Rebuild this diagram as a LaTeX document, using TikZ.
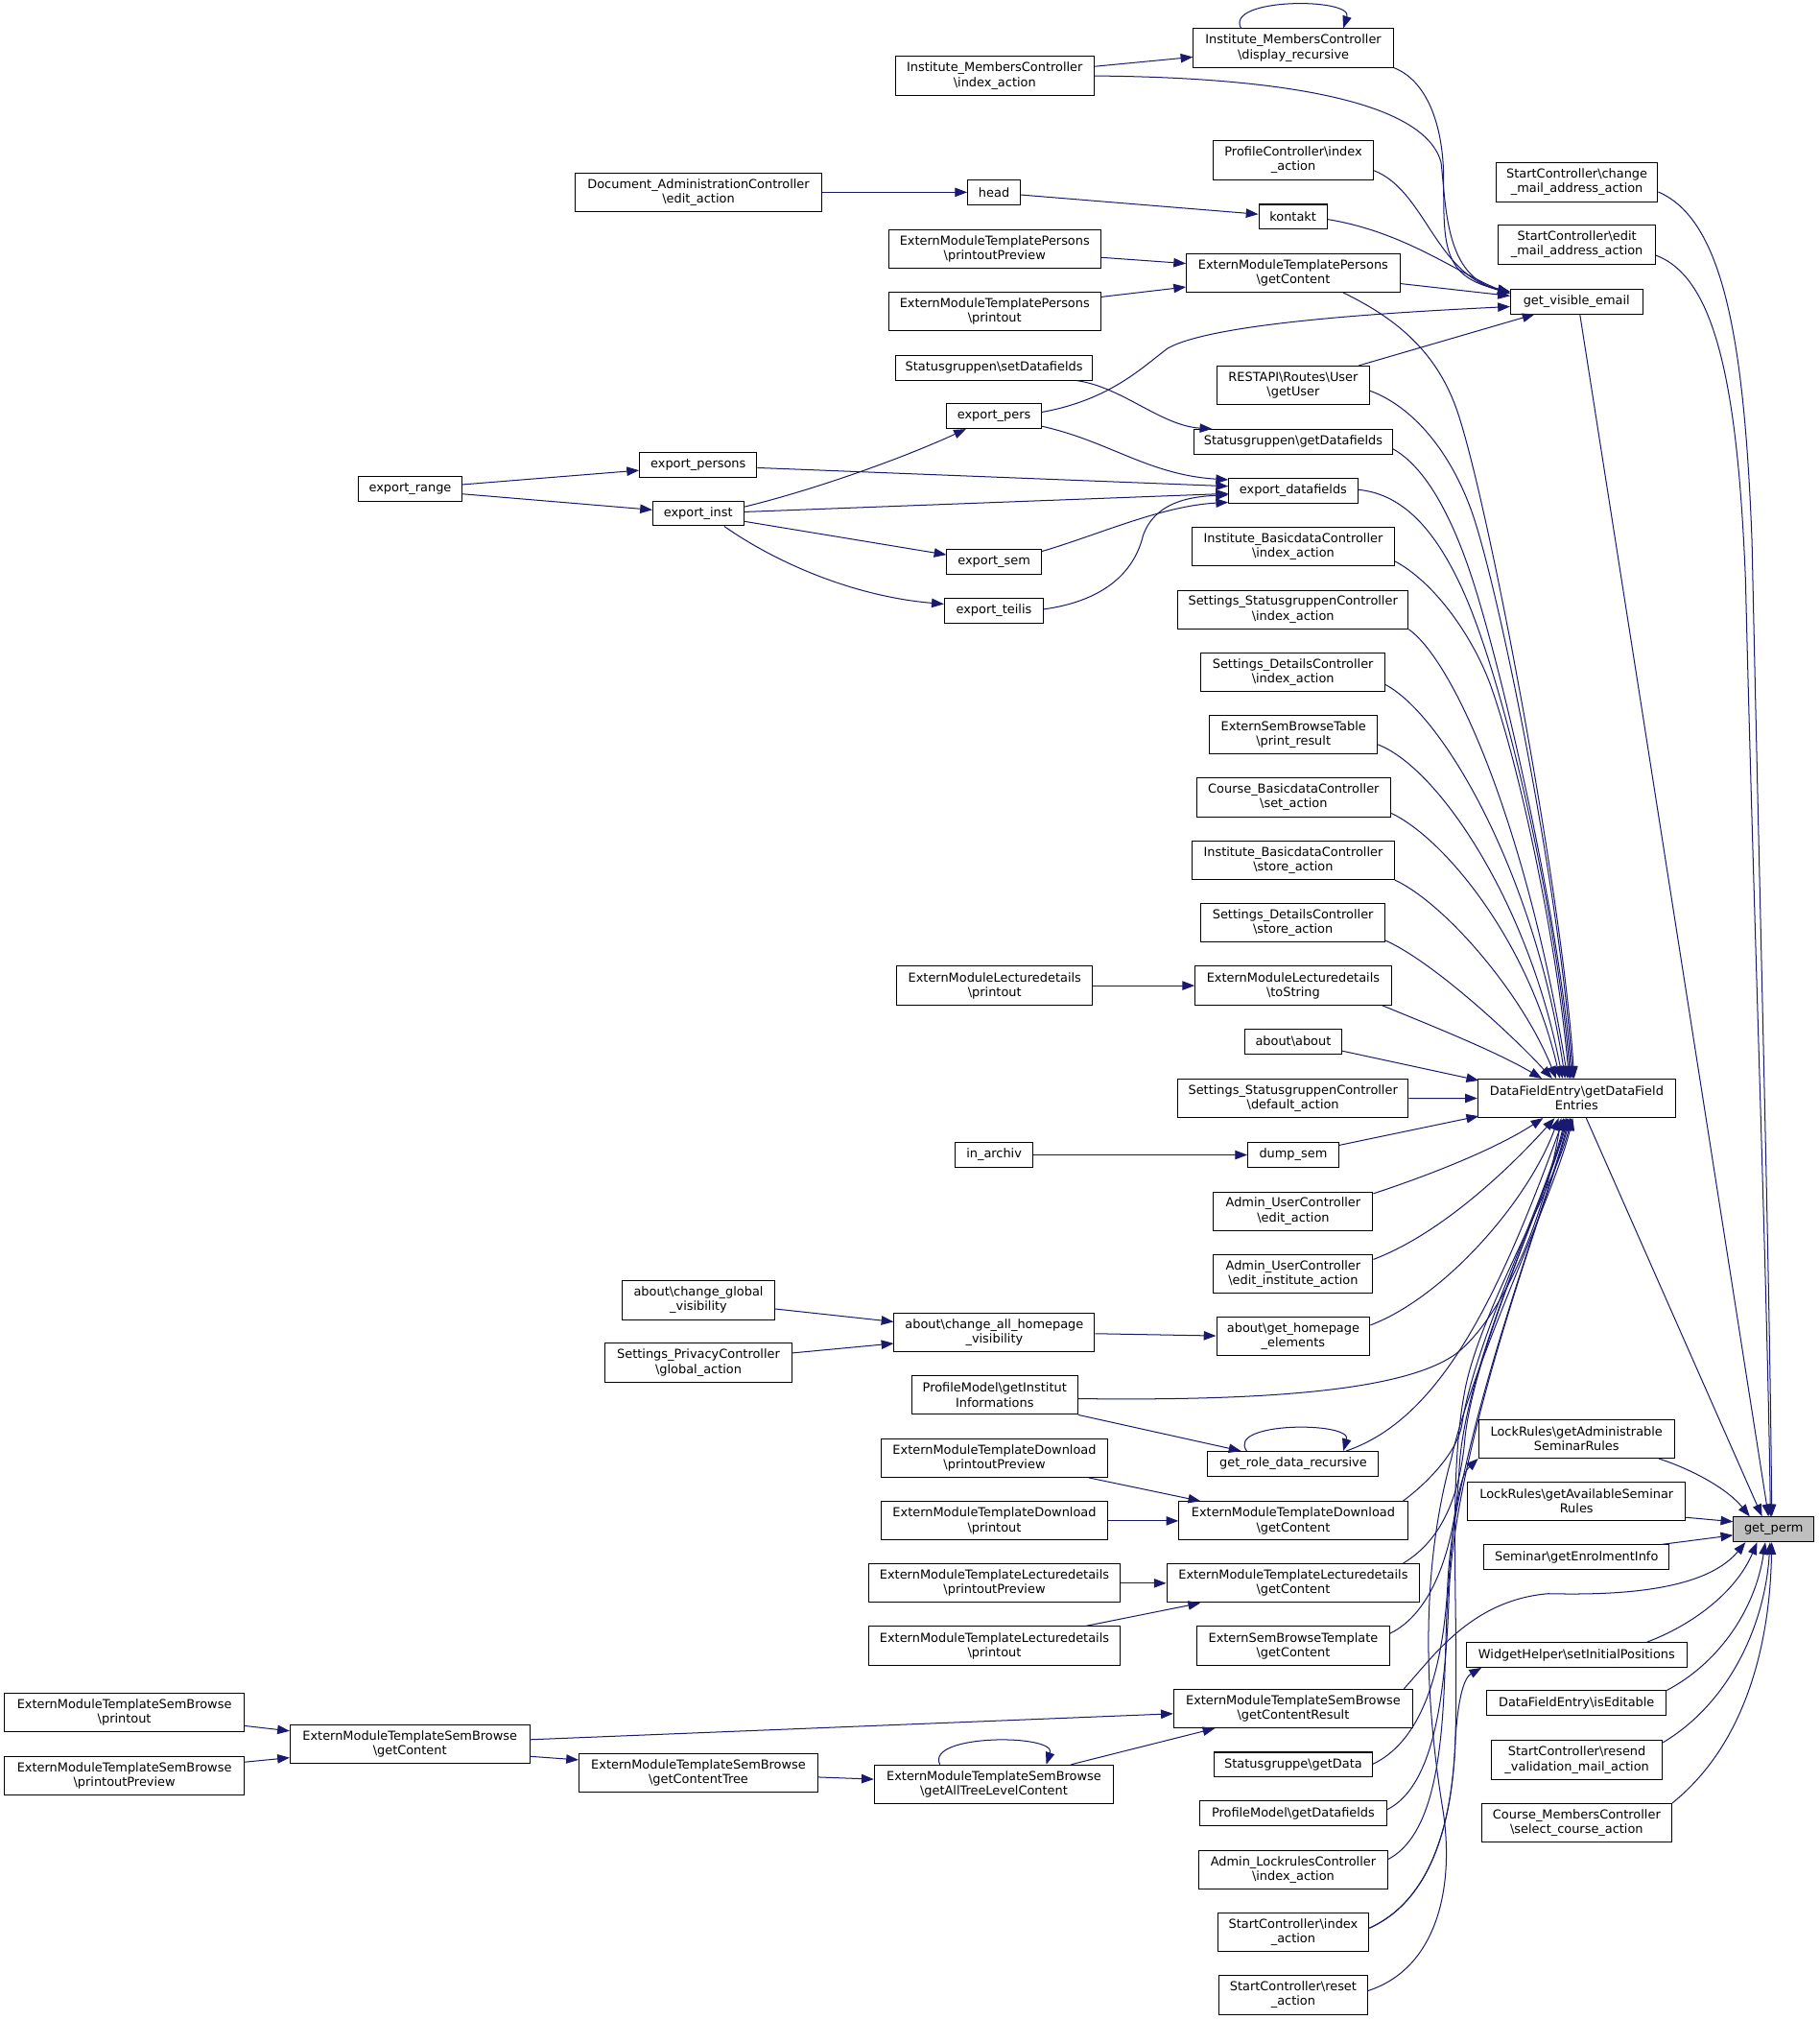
\documentclass[tikz,border=0pt]{standalone}
\usepackage{fontspec}
\newfontfamily\djfont{DejaVu Sans}
\usetikzlibrary{arrows.meta,calc}
\definecolor{edgec}{HTML}{191970}
\definecolor{gpfill}{HTML}{BFBFBF}
\newcommand{\BSL}{\textbackslash{}}
\begin{document}
\begin{tikzpicture}[x=1pt,y=-1pt,
  nd/.style={draw=black, fill=white, line width=0.75pt, inner xsep=1pt, inner ysep=1pt,
    align=center, font={\djfont\fontsize{9.6}{11.3}\selectfont}, minimum height=19.2pt},
  two/.style={minimum height=29.9pt},
  e/.style={draw=edgec, line width=0.75pt, -{Triangle[length=9.5pt,width=7pt]}}]
\fill[white] (0,0) rectangle (1410,1565.4);
\useasboundingbox (0,0) rectangle (1410,1565.4);

% ---------- right column
\node[nd,two,minimum width=125.2pt] (cma) at (1222.3,141.3) {StartController\BSL change\\\_mail\_address\_action};
\node[nd,two,minimum width=121.6pt] (ema) at (1222.3,189.6) {StartController\BSL edit\\\_mail\_address\_action};
\node[nd,minimum width=102.3pt] (gve) at (1222,233.6) {get\_visible\_email};
\node[nd,two,minimum width=153.2pt] (dfe) at (1222.1,851.1) {DataFieldEntry\BSL getDataField\\Entries};
\node[nd,two,minimum width=151.7pt] (lra) at (1222,1115) {LockRules\BSL getAdministrable\\SeminarRules};
\node[nd,two,minimum width=168.7pt] (lrv) at (1222,1163.5) {LockRules\BSL getAvailableSeminar\\Rules};
\node[nd,minimum width=143.6pt] (sge) at (1222,1206.8) {Seminar\BSL getEnrolmentInfo};
\node[nd,minimum width=171.4pt] (whs) at (1222.1,1282.4) {WidgetHelper\BSL setInitialPositions};
\node[nd,minimum width=139.1pt] (die) at (1222,1319.9) {DataFieldEntry\BSL isEditable};
\node[nd,two,minimum width=132.4pt] (rva) at (1222.3,1363.9) {StartController\BSL resend\\\_validation\_mail\_action};
\node[nd,two,minimum width=147.2pt] (mcs) at (1222.1,1412.7) {Course\_MembersController\\\BSL select\_course\_action};
\node[nd,fill=gpfill,minimum width=62.3pt] (gp) at (1374.8,1185.2) {get\_perm};

% ---------- column 3
\node[nd,two,minimum width=155pt] (dr) at (1002.5,37.2) {Institute\_MembersController\\\BSL display\_recursive};
\node[nd,two,minimum width=124.3pt] (pci) at (1002.5,124.2) {ProfileController\BSL index\\\_action};
\node[nd,minimum width=53pt] (kon) at (1002.2,168) {kontakt};
\node[nd,two,minimum width=165.6pt] (epg) at (1002.4,211.5) {ExternModuleTemplatePersons\\\BSL getContent};
\node[nd,two,minimum width=118pt] (rgu) at (1002.4,298.6) {RESTAPI\BSL Routes\BSL User\\\BSL getUser};
\node[nd,minimum width=153.9pt] (sgd) at (1002.4,342.3) {Statusgruppen\BSL getDatafields};
\node[nd,minimum width=100.1pt] (edf) at (1002.4,380.3) {export\_datafields};
\node[nd,two,minimum width=156.6pt] (ibi) at (1002.4,423.8) {Institute\_BasicdataController\\\BSL index\_action};
\node[nd,two,minimum width=178.6pt] (ssi) at (1002.2,472.3) {Settings\_StatusgruppenController\\\BSL index\_action};
\node[nd,two,minimum width=142.6pt] (sdi) at (1002.2,521) {Settings\_DetailsController\\\BSL index\_action};
\node[nd,two,minimum width=130.1pt] (spr) at (1002.6,569.4) {ExternSemBrowseTable\\\BSL print\_result};
\node[nd,two,minimum width=150.7pt] (cbs) at (1002.7,617.9) {Course\_BasicdataController\\\BSL set\_action};
\node[nd,two,minimum width=156.6pt] (ibs) at (1002.4,666.6) {Institute\_BasicdataController\\\BSL store\_action};
\node[nd,two,minimum width=142.6pt] (sds) at (1002.2,715.1) {Settings\_DetailsController\\\BSL store\_action};
\node[nd,two,minimum width=152.1pt] (lts) at (1002.4,763.8) {ExternModuleLecturedetails\\\BSL toString};
\node[nd,minimum width=74.9pt] (aa) at (1002.4,807.2) {about\BSL about};
\node[nd,two,minimum width=178.6pt] (ssd) at (1002.2,851.2) {Settings\_StatusgruppenController\\\BSL default\_action};
\node[nd,minimum width=70.4pt] (ds) at (1002.4,895) {dump\_sem};
\node[nd,two,minimum width=123.4pt] (aue) at (1002.4,938.6) {Admin\_UserController\\\BSL edit\_action};
\node[nd,two,minimum width=123.4pt] (aui) at (1002.4,987) {Admin\_UserController\\\BSL edit\_institute\_action};
\node[nd,two,minimum width=118.9pt] (ghe) at (1002.4,1035.7) {about\BSL get\_homepage\\\_elements};
\node[nd,minimum width=132.4pt] (grd) at (1002.4,1134.4) {get\_role\_data\_recursive};
\node[nd,two,minimum width=177.2pt] (tdg) at (1002.4,1178.6) {ExternModuleTemplateDownload\\\BSL getContent};
\node[nd,two,minimum width=196.1pt] (tlg) at (1002.4,1226.9) {ExternModuleTemplateLecturedetails\\\BSL getContent};
\node[nd,two,minimum width=149.4pt] (sbt) at (1002.4,1275.4) {ExternSemBrowseTemplate\\\BSL getContent};
\node[nd,two,minimum width=185.3pt] (gcr) at (1002.4,1324) {ExternModuleTemplateSemBrowse\\\BSL getContentResult};
\node[nd,minimum width=122.5pt] (sgg) at (1002.4,1367.5) {Statusgruppe\BSL getData};
\node[nd,minimum width=144.9pt] (pmd) at (1002.4,1405.3) {ProfileModel\BSL getDatafields};
\node[nd,two,minimum width=146.8pt] (ali) at (1002.4,1449) {Admin\_LockrulesController\\\BSL index\_action};
\node[nd,two,minimum width=117.1pt] (sci) at (1002.4,1497.6) {StartController\BSL index\\\_action};
\node[nd,two,minimum width=115.3pt] (scr) at (1002.4,1546) {StartController\BSL reset\\\_action};

% ---------- column 4
\node[nd,two,minimum width=154pt] (imi) at (771,58.8) {Institute\_MembersController\\\BSL index\_action};
\node[nd,minimum width=40.9pt] (hd) at (770.5,149) {head};
\node[nd,two,minimum width=164.4pt] (tpp) at (771,192.7) {ExternModuleTemplatePersons\\\BSL printoutPreview};
\node[nd,two,minimum width=164.4pt] (tpo) at (771,241.4) {ExternModuleTemplatePersons\\\BSL printout};
\node[nd,minimum width=153pt] (ssf) at (770.5,285) {Statusgruppen\BSL setDatafields};
\node[nd,minimum width=73.1pt] (ep) at (770.5,322.5) {export\_pers};
\node[nd,minimum width=73.1pt] (es) at (770.5,435.6) {export\_sem};
\node[nd,minimum width=76.8pt] (et) at (770.4,473.2) {export\_teilis};
\node[nd,two,minimum width=152pt] (lpo) at (771,763.8) {ExternModuleLecturedetails\\\BSL printout};
\node[nd,minimum width=60.5pt] (ia) at (770.5,895) {in\_archiv};
\node[nd,two,minimum width=155.3pt] (cah) at (770.7,1032.4) {about\BSL change\_all\_homepage\\\_visibility};
\node[nd,two,minimum width=128.6pt] (pgi) at (771,1081.1) {ProfileModel\BSL getInstitut\\Informations};
\node[nd,two,minimum width=175.6pt] (tdp) at (770.8,1129.8) {ExternModuleTemplateDownload\\\BSL printoutPreview};
\node[nd,two,minimum width=175.6pt] (tdo) at (770.8,1178.6) {ExternModuleTemplateDownload\\\BSL printout};
\node[nd,two,minimum width=195.4pt] (tlp) at (770.8,1226.9) {ExternModuleTemplateLecturedetails\\\BSL printoutPreview};
\node[nd,two,minimum width=195.4pt] (tlo) at (770.8,1275.4) {ExternModuleTemplateLecturedetails\\\BSL printout};
\node[nd,two,minimum width=185.4pt] (atl) at (770.4,1382.7) {ExternModuleTemplateSemBrowse\\\BSL getAllTreeLevelContent};

% ---------- column 5
\node[nd,two,minimum width=190.6pt] (dae) at (541.4,149) {Document\_AdministrationController\\\BSL edit\_action};
\node[nd,minimum width=91pt] (eps) at (541.2,360) {export\_persons};
\node[nd,minimum width=70.3pt] (ei) at (541.2,397.9) {export\_inst};
\node[nd,two,minimum width=117.6pt] (cgv) at (541.4,1007.6) {about\BSL change\_global\\\_visibility};
\node[nd,two,minimum width=144.6pt] (spg) at (541.4,1056) {Settings\_PrivacyController\\\BSL global\_action};
\node[nd,two,minimum width=185.2pt] (sbc) at (541.4,1373.7) {ExternModuleTemplateSemBrowse\\\BSL getContentTree};

% ---------- column 6 / 7
\node[nd,minimum width=80.6pt] (er) at (317.9,379) {export\_range};
\node[nd,two,minimum width=185.6pt] (sbg) at (317.7,1351.8) {ExternModuleTemplateSemBrowse\\\BSL getContent};
\node[nd,two,minimum width=185.7pt] (sbo) at (96.4,1327.2) {ExternModuleTemplateSemBrowse\\\BSL printout};
\node[nd,two,minimum width=185.7pt] (sbp) at (96.4,1375.9) {ExternModuleTemplateSemBrowse\\\BSL printoutPreview};

% ================= edges
% into get_visible_email
\draw[e] ($(imi.east)+(0,-7.3)$) -- ($(dr.west)+(0,7)$);
\draw[e] (imi.east) .. controls (1000,60) and (1105,80) .. (1117,126) .. controls (1121,160) and (1120,215) .. ($(gve.north west)+(0,2.5)$);
\draw[e] (dr.south east) .. controls (1105,62) and (1119,95) .. (1119,140) .. controls (1119,190) and (1118,215) .. ($(gve.north west)+(0,2.5)$);
\draw[e] ($(dr.north west)+(37.3,0)$) .. controls (949,-2) and (1049,-2) .. ($(dr.north east)+(-39.2,0)$);
\draw[e] ($(pci.east)+(0,8)$) .. controls (1105,148) and (1112,212) .. ($(gve.north west)+(0,3.5)$);
\draw[e] ($(kon.east)+(0,2)$) .. controls (1090,180) and (1130,212) .. ($(gve.north west)+(0,4)$);
\draw[e] ($(epg.east)+(0,8.3)$) -- ($(gve.west)+(0,-4.3)$);
\draw[e] ($(ep.east)+(0,-3.1)$) .. controls (860,310) and (885,285) .. (905,270) .. controls (940,250) and (1080,242) .. ($(gve.west)+(0,4)$);
\draw[e] ($(rgu.north east)+(-8.5,0)$) -- ($(gve.south west)+(19,0)$);

% small chains on the left
\draw[e] (dae.east) -- (hd.west);
\draw[e] ($(hd.east)+(0,2)$) -- ($(kon.west)+(0,-2)$);
\draw[e] ($(tpp.east)+(0,6.8)$) -- ($(epg.west)+(0,-7.3)$);
\draw[e] ($(tpo.east)+(0,-11.3)$) -- ($(epg.west)+(0,10.9)$);
\draw[e] ($(ssf.south east)+(-12.6,0)$) .. controls (870,300) and (900,330) .. ($(sgd.north west)+(14.4,0)$);
\draw[e] ($(er.east)+(0,-3.5)$) -- ($(eps.west)+(0,4.5)$);
\draw[e] ($(er.east)+(0,3.8)$) -- ($(ei.west)+(0,-2.8)$);
\draw[e] ($(eps.east)+(0,2.5)$) -- ($(edf.west)+(0,-3.5)$);
\draw[e] ($(ei.east)+(0,-1.2)$) -- ($(edf.west)+(0,2.2)$);
\draw[e] ($(ei.east)+(0,-5.1)$) .. controls (630,380) and (700,355) .. ($(ep.south west)+(15.2,0)$);
\draw[e] ($(ei.east)+(0,6.1)$) -- ($(es.west)+(0,-5.7)$);
\draw[e] ($(ei.south east)+(-15.35,0)$) .. controls (600,435) and (660,462) .. ($(et.west)+(0,-5.1)$);
\draw[e] ($(ep.east)+(0,7.8)$) .. controls (860,342) and (890,368) .. ($(edf.west)+(0,-8.5)$);
\draw[e] ($(es.east)+(0,-8.3)$) .. controls (850,415) and (900,392) .. ($(edf.south west)+(0,-1)$);
\draw[e] ($(et.east)+(0,-1.1)$) .. controls (860,465) and (880,440) .. (886,415) .. controls (895,390) and (920,385) .. ($(edf.west)+(0,3.2)$);
\draw[e] (lpo.east) -- (lts.west);
\draw[e] (ia.east) -- (ds.west);
\draw[e] ($(cgv.east)+(0,6.7)$) -- ($(cah.west)+(0,-8.1)$);
\draw[e] ($(spg.east)+(0,-7.5)$) -- ($(cah.west)+(0,8.7)$);
\draw[e] ($(cah.east)+(0,1.1)$) -- ($(ghe.west)+(0,-0.5)$);
\draw[e] (pgi.south east) -- ($(grd.north west)+(26.1,0)$);
\draw[e] ($(grd.north west)+(30.5,0)$) .. controls (950,1101.5) and (1048,1101.5) .. ($(grd.north east)+(-27.8,0)$);
\draw[e] ($(tdp.south east)+(-15.2,0)$) -- ($(tdg.north west)+(17.1,0)$);
\draw[e] (tdo.east) -- (tdg.west);
\draw[e] (tlp.east) -- (tlg.west);
\draw[e] ($(tlo.north east)+(-27.4,0)$) -- ($(tlg.south west)+(26.5,0)$);
\draw[e] ($(sbo.east)+(0,10.2)$) -- ($(sbg.west)+(0,-10.4)$);
\draw[e] ($(sbp.east)+(0,-10.4)$) -- ($(sbg.west)+(0,10.3)$);
\draw[e] ($(sbg.east)+(0,-3.7)$) -- ($(gcr.west)+(0,4)$);
\draw[e] ($(sbg.east)+(0,9.3)$) -- ($(sbc.west)+(0,-9.9)$);
\draw[e] ($(sbc.east)+(0,3.5)$) -- ($(atl.west)+(0,-3.9)$);
\draw[e] ($(atl.north east)+(-33.2,0)$) -- ($(gcr.south west)+(32.4,0)$);
\draw[e] ($(atl.north west)+(51.2,0)$) .. controls (717,1343.5) and (819,1343.5) .. ($(atl.north east)+(-52.5,0)$);

% into get_perm
\draw[e] ($(gve.south)+(2.6,0)$) -- ($(gp.north)+(-4,0)$);
\draw[e] ($(cma.east)+(0,7.4)$) .. controls (1335,170) and (1352,260) .. (1358,420) .. controls (1364,700) and (1372,1000) .. ($(gp.north)+(-1.5,0)$);
\draw[e] ($(ema.east)+(0,8.3)$) .. controls (1330,215) and (1347,300) .. (1353,450) .. controls (1359,700) and (1370,1000) .. ($(gp.north)+(-2.5,0)$);
\draw[e] ($(dfe.south)+(7.4,0)$) -- ($(gp.north)+(-9,0)$);
\draw[e] ($(lra.south east)+(-12.5,0)$) .. controls (1315,1140) and (1340,1155) .. ($(gp.north west)+(13,0)$);
\draw[e] ($(lrv.east)+(0,12.4)$) -- ($(gp.west)+(0,-6)$);
\draw[e] ($(sge.north east)+(-6.2,0)$) -- ($(gp.west)+(0,4.5)$);
\draw[e] ($(gcr.north east)+(-7.2,0)$) .. controls (1110,1285) and (1140,1240) .. (1200,1235) .. controls (1245,1236) and (1320,1235) .. ($(gp.south west)+(9.7,0)$);
\draw[e] ($(whs.north east)+(-31.4,0)$) .. controls (1310,1260) and (1345,1235) .. ($(gp.south)+(-12.8,0)$);
\draw[e] (die.north east) .. controls (1330,1290) and (1360,1250) .. ($(gp.south)+(-6.5,0)$);
\draw[e] ($(rva.east)+(0,-13.5)$) .. controls (1340,1320) and (1368,1260) .. ($(gp.south)+(-2.8,0)$);
\draw[e] (mcs.north east) .. controls (1355,1350) and (1372,1270) .. ($(gp.south)+(-1.5,0)$);

% into getDataFieldEntries from above
\draw[e] ($(epg.south east)+(-44.4,0)$) .. controls (1085,248) and (1115,275) .. (1130,320) .. controls (1155,395) and (1212,700) .. ($(dfe.north)+(-2,0)$);
\draw[e] ($(rgu.east)+(0,4.2)$) .. controls (1095,315) and (1125,350) .. (1142,400) .. controls (1165,470) and (1210,700) .. ($(dfe.north)+(-3,0)$);
\draw[e] ($(sgd.east)+(0,5.6)$) .. controls (1105,362) and (1125,400) .. (1140,445) .. controls (1165,520) and (1210,720) .. ($(dfe.north)+(-4,0)$);
\draw[e] ($(edf.east)+(0,-0.8)$) .. controls (1090,383) and (1115,415) .. (1135,460) .. controls (1170,540) and (1208,720) .. ($(dfe.north)+(-5,0)$);
\draw[e] ($(ibi.east)+(0,11.1)$) .. controls (1110,450) and (1140,490) .. (1155,530) .. controls (1180,600) and (1208,740) .. ($(dfe.north)+(-6,0)$);
\draw[e] (ssi.south east) .. controls (1130,515) and (1185,650) .. ($(dfe.north)+(-7,0)$);
\draw[e] ($(sdi.east)+(0,9.6)$) .. controls (1120,555) and (1190,680) .. ($(dfe.north)+(-9,0)$);
\draw[e] ($(spr.east)+(0,7.6)$) .. controls (1115,595) and (1185,700) .. ($(dfe.north)+(-11,0)$);
\draw[e] ($(cbs.east)+(0,12.3)$) .. controls (1120,650) and (1185,730) .. ($(dfe.north)+(-13,0)$);
\draw[e] (ibs.south east) .. controls (1120,700) and (1180,770) .. ($(dfe.north)+(-16,0)$);
\draw[e] ($(sds.east)+(0,13.7)$) .. controls (1110,745) and (1170,800) .. ($(dfe.north)+(-19,0)$);
\draw[e] ($(lts.south east)+(-7.6,0)$) .. controls (1110,795) and (1160,815) .. ($(dfe.north)+(-27,0)$);
\draw[e] ($(aa.east)+(0,7.2)$) -- ($(dfe.north west)+(1,1.5)$);
\draw[e] (ssd.east) -- (dfe.west);
\draw[e] ($(ds.east)+(0,-7.5)$) -- ($(dfe.south west)+(1,-1.5)$);

% into getDataFieldEntries from below
\draw[e] ($(aue.east)+(0,-13.6)$) .. controls (1110,910) and (1160,890) .. ($(dfe.south)+(-26,0)$);
\draw[e] ($(aui.east)+(0,-11)$) .. controls (1120,955) and (1175,900) .. ($(dfe.south)+(-17,0)$);
\draw[e] ($(ghe.east)+(0,-8.8)$) .. controls (1120,1005) and (1185,930) .. ($(dfe.south)+(-14,0)$);
\draw[e] ($(pgi.east)+(0,2.8)$) .. controls (1000,1086) and (1095,1075) .. (1130,1048) .. controls (1170,1015) and (1200,930) .. ($(dfe.south)+(-12,0)$);
\draw[e] ($(grd.north east)+(-25.6,0)$) .. controls (1115,1100) and (1160,1010) .. ($(dfe.south)+(-10,0)$);
\draw[e] ($(tdg.north east)+(-4,0)$) .. controls (1108,1148) and (1129,1125) .. (1133,1105) .. controls (1142,1040) and (1200,925) .. ($(dfe.south)+(-9,0)$);
\draw[e] ($(tlg.north east)+(-13.4,0)$) .. controls (1115,1195) and (1130,1165) .. (1135,1120) .. controls (1140,1050) and (1200,925) .. ($(dfe.south)+(-8,0)$);
\draw[e] ($(sbt.east)+(0,-9.6)$) .. controls (1110,1250) and (1128,1200) .. (1131,1140) .. controls (1134,1060) and (1200,925) .. ($(dfe.south)+(-7,0)$);
\draw[e] ($(sgg.east)+(0,-0.4)$) .. controls (1100,1350) and (1118,1300) .. (1122,1230) .. controls (1126,1120) and (1200,930) .. ($(dfe.south)+(-6,0)$);
\draw[e] ($(pmd.east)+(0,-3)$) .. controls (1110,1385) and (1120,1320) .. (1123,1240) .. controls (1126,1120) and (1200,930) .. ($(dfe.south)+(-5,0)$);
\draw[e] ($(ali.east)+(0,-8.3)$) .. controls (1125,1415) and (1118,1300) .. (1122,1240) .. controls (1126,1180) and (1130,1145) .. (lra.south west);
\draw[e] ($(sci.east)+(0,-3.4)$) .. controls (1115,1470) and (1126,1400) .. (1128,1350) .. controls (1130,1315) and (1135,1300) .. ($(whs.south west)+(12.3,0)$);
\draw[e] ($(sci.east)+(0,-3.4)$) .. controls (1115,1470) and (1126,1400) .. (1128,1350) .. controls (1131,1250) and (1122,1150) .. (1135,1080) .. controls (1145,1020) and (1205,920) .. ($(dfe.south)+(-4,0)$);
\draw[e] ($(scr.east)+(0,-3.3)$) .. controls (1115,1525) and (1128,1460) .. (1118,1400) .. controls (1105,1320) and (1100,1220) .. (1125,1130) .. controls (1140,1060) and (1205,925) .. ($(dfe.south)+(-3,0)$);
\end{tikzpicture}
\end{document}
